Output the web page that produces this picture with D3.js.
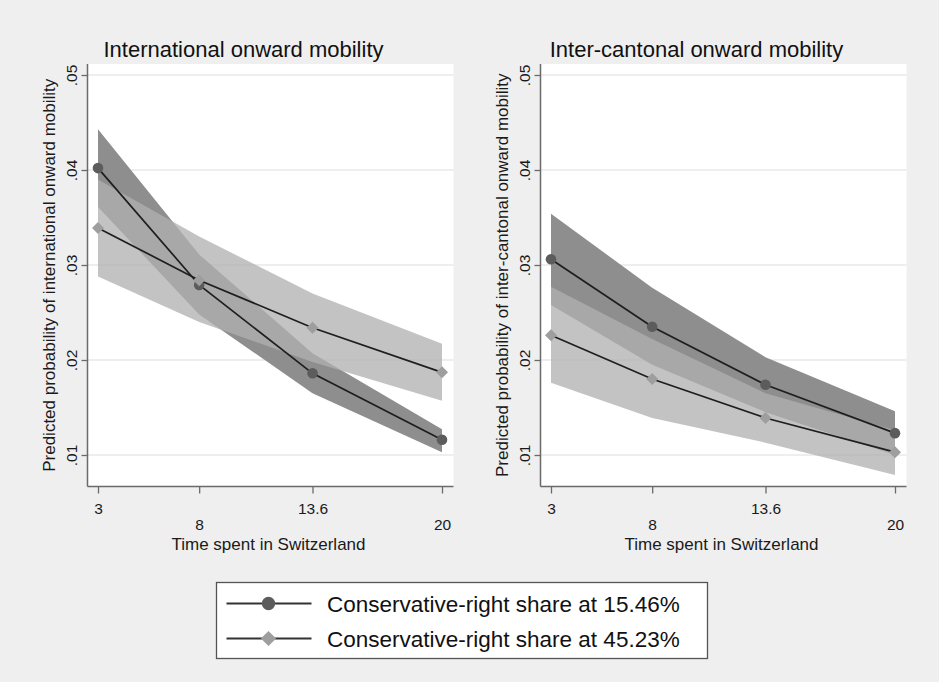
<!DOCTYPE html>
<html>
<head>
<meta charset="utf-8">
<script src="https://cdn.jsdelivr.net/npm/d3@7"></script>
<style>
  html, body { margin: 0; padding: 0; background: #efefef; }
  svg { display: block; font-family: "Liberation Sans", Arial, sans-serif; }
</style>
</head>
<body>
<svg id="chart" width="939" height="682"></svg>
<script>
// Years spent in Switzerland at which predictions were evaluated
const timeSpent = [3, 8, 13.6, 20];
const xTickLabels = ["3", "8", "13.6", "20"];
const yTicks = [0.01, 0.02, 0.03, 0.04, 0.05];
const seriesNames = ["Conservative-right share at 15.46%", "Conservative-right share at 45.23%"];
const panelTitles = ["International onward mobility", "Inter-cantonal onward mobility"];
const yTitles = ["Predicted probability of international onward mobility",
                 "Predicted probability of inter-cantonal onward mobility"];
const xTitle = "Time spent in Switzerland";

// International onward mobility: predicted probability and 95% CI
const intlLowEst  = [0.0402, 0.0279, 0.0186, 0.0116];
const intlLowLo   = [0.0361, 0.0248, 0.0165, 0.0103];
const intlLowHi   = [0.0443, 0.0311, 0.0207, 0.0127];
const intlHighEst = [0.0339, 0.0284, 0.0234, 0.0187];
const intlHighLo  = [0.0288, 0.0240, 0.0198, 0.0157];
const intlHighHi  = [0.0390, 0.0330, 0.0270, 0.0217];

// Inter-cantonal onward mobility: predicted probability and 95% CI
const cantLowEst  = [0.0306, 0.0235, 0.0174, 0.0123];
const cantLowLo   = [0.0258, 0.0195, 0.0145, 0.0100];
const cantLowHi   = [0.0354, 0.0276, 0.0203, 0.0146];
const cantHighEst = [0.0226, 0.0180, 0.0139, 0.0103];
const cantHighLo  = [0.0176, 0.0139, 0.0113, 0.0079];
const cantHighHi  = [0.0277, 0.0222, 0.0165, 0.0126];

const zip = (est, lo, hi) => timeSpent.map((t, i) => ({ t, est: est[i], lo: lo[i], hi: hi[i] }));

const panels = [
  { axisX: 87.5, rightX: 453.5, title: panelTitles[0], yTitle: yTitles[0],
    series: [zip(intlLowEst, intlLowLo, intlLowHi), zip(intlHighEst, intlHighLo, intlHighHi)] },
  { axisX: 540.5, rightX: 906.5, title: panelTitles[1], yTitle: yTitles[1],
    series: [zip(cantLowEst, cantLowLo, cantLowHi), zip(cantHighEst, cantHighLo, cantHighHi)] }
];

const plotTop = 64, plotBottom = 486.5;
const bandFill = [
  { fill: "#8e8e8e", opacity: 1 },
  { fill: "#b0b0b0", opacity: 0.76 }
];
const markerFill = ["#5c5c5c", "#9e9e9e"];
const lineColor = "#1e1e1e";

const svg = d3.select("#chart");
svg.append("rect").attr("width", 939).attr("height", 682).attr("fill", "#efefef");

const y = d3.scaleLinear().domain([0.01, 0.05]).range([455, 75]);
const fmtY = v => d3.format(".2f")(v).replace(/^0/, "");

const circleSym = d3.symbol().type(d3.symbolCircle);
const diamondSym = d3.symbol().type(d3.symbolSquare);

function drawMarker(g, k, cx, cy, scale) {
  if (k === 0) {
    g.append("path")
      .attr("d", circleSym.size(88 * scale)())
      .attr("transform", `translate(${cx},${cy})`)
      .attr("fill", markerFill[0]);
  } else {
    g.append("path")
      .attr("d", diamondSym.size(72 * scale)())
      .attr("transform", `translate(${cx},${cy}) rotate(45)`)
      .attr("fill", markerFill[1]);
  }
}

panels.forEach(p => {
  const x = d3.scaleLinear().domain([3, 20]).range([p.axisX + 10.5, p.axisX + 354.5]);
  const g = svg.append("g");

  // plot region
  g.append("rect")
    .attr("x", p.axisX).attr("y", plotTop)
    .attr("width", p.rightX - p.axisX).attr("height", plotBottom - plotTop)
    .attr("fill", "#ffffff");

  // horizontal grid
  g.append("g").selectAll("line").data(yTicks).join("line")
    .attr("x1", p.axisX).attr("x2", p.rightX)
    .attr("y1", d => y(d)).attr("y2", d => y(d))
    .attr("stroke", "#e8e8e8").attr("stroke-width", 1.5);

  // confidence bands
  const area = d3.area().x(d => x(d.t)).y0(d => y(d.lo)).y1(d => y(d.hi));
  p.series.forEach((s, k) => {
    g.append("path").datum(s).attr("d", area)
      .attr("fill", bandFill[k].fill).attr("fill-opacity", bandFill[k].opacity);
  });

  // connected lines with markers
  const line = d3.line().x(d => x(d.t)).y(d => y(d.est));
  p.series.forEach((s, k) => {
    g.append("path").datum(s).attr("d", line)
      .attr("fill", "none").attr("stroke", lineColor).attr("stroke-width", 1.7);
    s.forEach(d => drawMarker(g, k, x(d.t), y(d.est), 1));
  });

  // y axis
  const yAxis = d3.axisLeft(y).tickValues(yTicks).tickSize(6).tickFormat(fmtY);
  const ya = g.append("g").attr("transform", `translate(${p.axisX},0)`).call(yAxis);
  ya.select(".domain").remove();
  ya.selectAll(".tick line").attr("stroke", "#6a6a6a").attr("stroke-width", 1.3);
  ya.selectAll(".tick text")
    .attr("x", null).attr("y", null).attr("dy", null)
    .attr("text-anchor", "middle")
    .attr("transform", "translate(-11,0) rotate(-90)")
    .attr("fill", "#1a1a1a").style("font-size", "15.5px")
    .style("font-family", "'Liberation Sans', Arial, sans-serif");
  g.append("line")
    .attr("x1", p.axisX).attr("x2", p.axisX)
    .attr("y1", plotTop).attr("y2", plotBottom)
    .attr("stroke", "#6a6a6a").attr("stroke-width", 1.5);

  // x axis
  const xAxis = d3.axisBottom(x).tickValues(timeSpent).tickSize(7)
    .tickFormat((d, i) => xTickLabels[i]);
  const xa = g.append("g").attr("transform", `translate(0,${plotBottom})`).call(xAxis);
  xa.select(".domain").remove();
  xa.selectAll(".tick line").attr("stroke", "#6a6a6a").attr("stroke-width", 1.3);
  xa.selectAll(".tick text")
    .attr("y", (d, i) => i % 2 === 0 ? 27 : 43).attr("dy", null)
    .attr("fill", "#1a1a1a").style("font-size", "15.5px")
    .style("font-family", "'Liberation Sans', Arial, sans-serif");
  g.append("line")
    .attr("x1", p.axisX).attr("x2", p.rightX)
    .attr("y1", plotBottom).attr("y2", plotBottom)
    .attr("stroke", "#6a6a6a").attr("stroke-width", 1.5);

  // axis titles
  const midX = (p.axisX + p.rightX) / 2;
  g.append("text")
    .attr("x", midX - 2).attr("y", 550)
    .attr("text-anchor", "middle").attr("fill", "#1a1a1a")
    .style("font-size", "17px").text(xTitle);
  const midY = (plotTop + plotBottom) / 2;
  g.append("text")
    .attr("transform", `translate(${p.axisX - 33},${midY}) rotate(-90)`)
    .attr("text-anchor", "middle").attr("fill", "#1a1a1a")
    .style("font-size", "17px").text(p.yTitle);

  // panel title
  g.append("text")
    .attr("x", midX - 27).attr("y", 57)
    .attr("text-anchor", "middle").attr("fill", "#111")
    .style("font-size", "22px").text(p.title);
});

// legend
const lg = svg.append("g");
lg.append("rect")
  .attr("x", 216.5).attr("y", 582.5).attr("width", 491).attr("height", 76)
  .attr("fill", "#ffffff").attr("stroke", "#555").attr("stroke-width", 1.3);
const rowY = [603.5, 638.5];
seriesNames.forEach((name, k) => {
  lg.append("line")
    .attr("x1", 226.5).attr("x2", 311.5).attr("y1", rowY[k]).attr("y2", rowY[k])
    .attr("stroke", "#333").attr("stroke-width", 2);
  drawMarker(lg, k, 268.5, rowY[k], 1.6);
  lg.append("text")
    .attr("x", 327).attr("y", rowY[k] + 8)
    .attr("fill", "#111").style("font-size", "22.5px").text(name);
});
</script>
</body>
</html>
